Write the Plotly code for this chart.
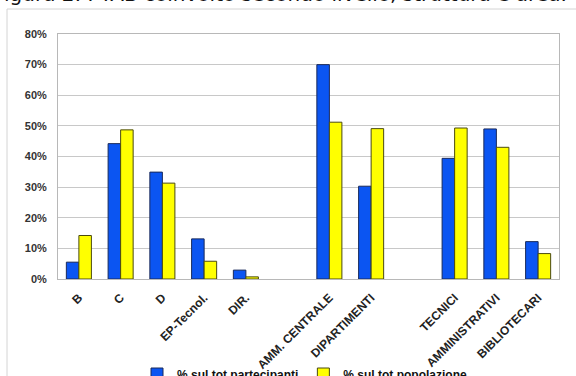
import plotly.graph_objects as go

categories = ["B", "C", "D", "EP-Tecnol.", "DIR.", " ", "AMM. CENTRALE", "DIPARTIMENTI",
              "  ", "TECNICI", "AMMINISTRATIVI", "BIBLIOTECARI"]
partecipanti = [5.5, 44.2, 34.9, 13.1, 2.9, None, 70.0, 30.3, None, 39.4, 49.0, 12.2]
popolazione = [14.2, 48.7, 31.3, 5.8, 0.7, None, 51.2, 49.1, None, 49.3, 43.0, 8.3]
y_ticks = [0, 10, 20, 30, 40, 50, 60, 70, 80]
y_labels = ["0%", "10%", "20%", "30%", "40%", "50%", "60%", "70%", "80%"]
title_text = "igura 2: PTAB coinvolto secondo livello, struttura e area."

W, H = 576, 376
L, R, T, B = 58, 17, 34, 97
pw, ph = W - L - R, H - T - B

def px(x):
    return (x - L) / pw

def py(y):
    return (H - B - y) / ph

fig = go.Figure()
fig.add_trace(go.Bar(x=categories, y=partecipanti, name="% sul tot partecipanti",
                     marker=dict(color="#0b55f2", line=dict(color="#1a2a5a", width=1))))
fig.add_trace(go.Bar(x=categories, y=popolazione, name="% sul tot popolazione",
                     marker=dict(color="#ffff00", line=dict(color="#4a4a10", width=1))))

fig.update_layout(
    width=W, height=H,
    margin=dict(l=L, r=R, t=T, b=B, pad=0, autoexpand=False),
    paper_bgcolor="white", plot_bgcolor="white",
    barmode="group", bargap=0.4, bargroupgap=0,
    showlegend=True,
    legend=dict(orientation="h", x=px(305), xanchor="center", y=py(374), yanchor="middle",
                font=dict(family="Liberation Sans", size=12, color="#111", weight="bold"),
                itemwidth=30, tracegroupgap=0, bgcolor="rgba(0,0,0,0)"),
    font=dict(family="Liberation Sans"),
)
fig.update_xaxes(type="category", categoryorder="array", categoryarray=categories,
                 tickangle=-45, showline=True, linecolor="#b8b8b8", mirror=True,
                 ticks="", showgrid=False, ticklabelstandoff=6,
                 tickfont=dict(family="Liberation Sans", size=12, color="#222", weight="bold"))
fig.update_yaxes(range=[0, 80], tickvals=y_ticks, ticktext=y_labels,
                 showgrid=True, gridcolor="#c8c8c8", gridwidth=1,
                 showline=True, linecolor="#b8b8b8", mirror=True, zeroline=False,
                 ticks="", ticklabelstandoff=8,
                 tickfont=dict(family="Liberation Sans", size=11, color="#333", weight="bold"))

fig.add_shape(type="rect", xref="paper", yref="paper",
              x0=px(7), x1=px(620), y0=py(9), y1=py(420),
              line=dict(color="#d4d4d4", width=1), fillcolor="rgba(0,0,0,0)", layer="below")

fig.add_annotation(text=title_text, xref="paper", yref="paper",
                   x=px(2), xanchor="left", y=py(-6), yanchor="middle",
                   showarrow=False, font=dict(family="DejaVu Sans", size=20, color="#111"))

fig.write_html("out.html")
